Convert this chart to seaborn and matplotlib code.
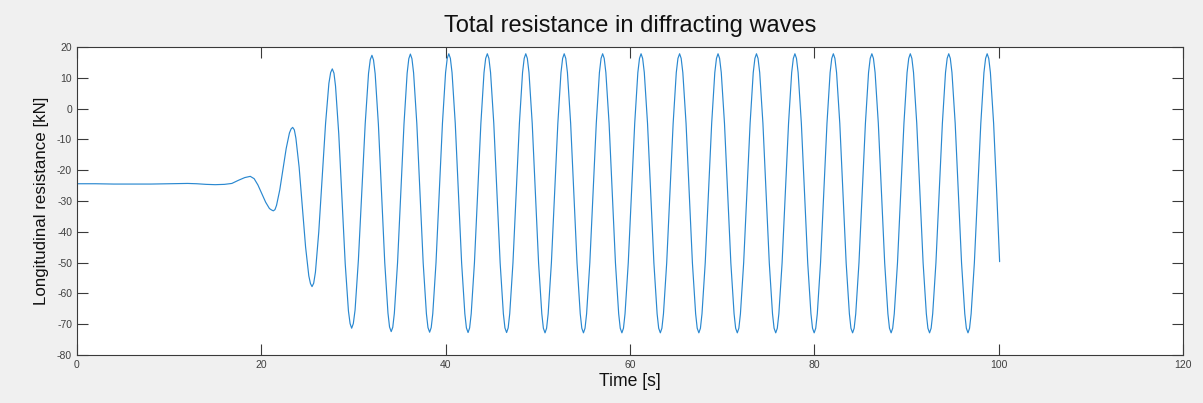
# Total resistance in diffracting waves - longitudinal resistance time trace
import numpy as np
import pandas as pd
import matplotlib
matplotlib.use('Agg')
import matplotlib.pyplot as plt
import seaborn as sns

# ==================== data ====================
# onset (flat, then the wave front arrives)
t_onset = [0, 2, 4, 6, 8, 10, 12, 13, 14, 15, 16, 16.8, 17.5, 18.2, 18.8,
           19.22, 19.63, 20.05, 20.47, 20.88, 21.1, 21.3, 21.48,
           21.65, 22.0, 22.35, 22.7, 23.05, 23.23, 23.4, 23.58,
           23.75, 24.1, 24.45, 24.8, 25.15, 25.33, 25.5, 25.68,
           25.87, 26.23, 26.6, 26.97, 27.33, 27.52, 27.7, 27.88,
           28.05, 28.4, 28.75, 29.1, 29.45, 29.63, 29.8, 29.98,
           30.17, 30.53, 30.9, 31.27, 31.63, 31.82]
r_onset = [-24.4, -24.4, -24.5, -24.5, -24.5, -24.4, -24.3, -24.4, -24.6, -24.7, -24.6, -24.3, -23.3, -22.4, -22.0,
           -22.75, -24.8, -27.6, -30.4, -32.45, -32.9, -33.2, -32.8,
           -31.4, -26.4, -19.7, -12.9, -7.9, -6.6, -6.1, -6.9,
           -9.6, -19.0, -32.0, -44.9, -54.3, -56.8, -57.8, -56.7,
           -53.1, -40.1, -22.5, -4.8, 8.2, 11.7, 12.9, 11.5,
           7.3, -8.2, -29.2, -50.3, -65.7, -69.8, -71.3, -69.8,
           -65.4, -49.2, -27.0, -4.9, 11.4, 15.9]

# steady oscillation (one row per wave period, peak to peak)
t_steady = [32.00, 32.17, 32.35, 32.70, 33.04, 33.39, 33.74, 33.91, 34.09, 34.26, 34.43, 34.78, 35.13, 35.48, 35.82, 36.00,
            36.17, 36.34, 36.52, 36.87, 37.21, 37.56, 37.91, 38.08, 38.26, 38.43, 38.60, 38.95, 39.30, 39.65, 39.99, 40.17,
            40.34, 40.51, 40.69, 41.04, 41.38, 41.73, 42.08, 42.25, 42.43, 42.60, 42.77, 43.12, 43.47, 43.82, 44.16, 44.34,
            44.52, 44.69, 44.87, 45.22, 45.56, 45.91, 46.26, 46.43, 46.61, 46.78, 46.95, 47.30, 47.65, 48.00, 48.34, 48.52,
            48.69, 48.86, 49.04, 49.39, 49.73, 50.08, 50.43, 50.60, 50.78, 50.95, 51.12, 51.47, 51.82, 52.17, 52.51, 52.69,
            52.86, 53.03, 53.21, 53.56, 53.90, 54.25, 54.60, 54.77, 54.95, 55.12, 55.29, 55.64, 55.99, 56.34, 56.68, 56.86,
            57.03, 57.20, 57.38, 57.73, 58.07, 58.42, 58.77, 58.94, 59.12, 59.29, 59.46, 59.81, 60.16, 60.51, 60.85, 61.03,
            61.20, 61.37, 61.55, 61.90, 62.24, 62.59, 62.94, 63.11, 63.29, 63.46, 63.63, 63.98, 64.33, 64.68, 65.02, 65.20,
            65.38, 65.55, 65.73, 66.08, 66.42, 66.77, 67.12, 67.29, 67.47, 67.64, 67.81, 68.16, 68.51, 68.86, 69.20, 69.38,
            69.55, 69.72, 69.90, 70.25, 70.59, 70.94, 71.29, 71.46, 71.64, 71.81, 71.98, 72.33, 72.68, 73.03, 73.37, 73.55,
            73.72, 73.89, 74.07, 74.42, 74.76, 75.11, 75.46, 75.63, 75.81, 75.98, 76.15, 76.50, 76.85, 77.20, 77.54, 77.72,
            77.89, 78.06, 78.24, 78.59, 78.93, 79.28, 79.63, 79.80, 79.98, 80.15, 80.32, 80.67, 81.02, 81.37, 81.71, 81.89,
            82.06, 82.23, 82.41, 82.76, 83.10, 83.45, 83.80, 83.97, 84.15, 84.32, 84.49, 84.84, 85.19, 85.54, 85.88, 86.06,
            86.24, 86.41, 86.59, 86.94, 87.28, 87.63, 87.98, 88.15, 88.33, 88.50, 88.67, 89.02, 89.37, 89.72, 90.06, 90.24,
            90.41, 90.58, 90.76, 91.11, 91.45, 91.80, 92.15, 92.32, 92.50, 92.67, 92.84, 93.19, 93.54, 93.89, 94.23, 94.41,
            94.58, 94.75, 94.93, 95.28, 95.62, 95.97, 96.32, 96.49, 96.67, 96.84, 97.01, 97.36, 97.71, 98.06, 98.40, 98.58,
            98.75, 98.92, 99.10, 99.45, 99.79, 100.10]
r_steady = [17.3, 15.8, 11.3, -5.1, -27.6, -50.0, -66.4, -70.9, -72.4, -71.0, -66.5, -50.0, -27.5, -4.9, 11.5, 16.2,
            17.7, 16.2, 11.6, -4.9, -27.5, -50.1, -66.6, -71.1, -72.6, -71.1, -66.6, -50.1, -27.5, -4.8, 11.7, 16.3,
            17.8, 16.3, 11.7, -4.8, -27.5, -50.1, -66.6, -71.2, -72.7, -71.2, -66.6, -50.1, -27.5, -4.8, 11.7, 16.3,
            17.8, 16.3, 11.7, -4.8, -27.5, -50.1, -66.6, -71.2, -72.7, -71.2, -66.6, -50.1, -27.5, -4.8, 11.7, 16.3,
            17.8, 16.3, 11.7, -4.8, -27.5, -50.1, -66.6, -71.3, -72.8, -71.3, -66.6, -50.1, -27.5, -4.8, 11.7, 16.3,
            17.8, 16.3, 11.7, -4.8, -27.5, -50.1, -66.6, -71.3, -72.8, -71.3, -66.6, -50.1, -27.5, -4.8, 11.7, 16.3,
            17.8, 16.3, 11.7, -4.8, -27.5, -50.1, -66.6, -71.3, -72.8, -71.3, -66.6, -50.1, -27.5, -4.8, 11.7, 16.3,
            17.8, 16.3, 11.7, -4.8, -27.5, -50.1, -66.6, -71.3, -72.8, -71.3, -66.6, -50.1, -27.5, -4.8, 11.7, 16.3,
            17.8, 16.3, 11.7, -4.8, -27.5, -50.1, -66.6, -71.3, -72.8, -71.3, -66.6, -50.1, -27.5, -4.8, 11.7, 16.3,
            17.8, 16.3, 11.7, -4.8, -27.5, -50.1, -66.6, -71.3, -72.8, -71.3, -66.6, -50.1, -27.5, -4.8, 11.7, 16.3,
            17.8, 16.3, 11.7, -4.8, -27.5, -50.1, -66.6, -71.3, -72.8, -71.3, -66.6, -50.1, -27.5, -4.8, 11.7, 16.3,
            17.8, 16.3, 11.7, -4.8, -27.5, -50.1, -66.6, -71.3, -72.8, -71.3, -66.6, -50.1, -27.5, -4.8, 11.7, 16.3,
            17.8, 16.3, 11.7, -4.8, -27.5, -50.1, -66.6, -71.3, -72.8, -71.3, -66.6, -50.1, -27.5, -4.8, 11.7, 16.3,
            17.8, 16.3, 11.7, -4.8, -27.5, -50.1, -66.6, -71.3, -72.8, -71.3, -66.6, -50.1, -27.5, -4.8, 11.7, 16.3,
            17.8, 16.3, 11.7, -4.8, -27.5, -50.1, -66.6, -71.3, -72.8, -71.3, -66.6, -50.1, -27.5, -4.8, 11.7, 16.3,
            17.8, 16.3, 11.7, -4.8, -27.5, -50.1, -66.6, -71.3, -72.8, -71.3, -66.6, -50.1, -27.5, -4.8, 11.7, 16.3,
            17.8, 16.3, 11.7, -4.8, -27.5, -49.7]

x_ticks = [0, 20, 40, 60, 80, 100, 120]
y_ticks = [-80, -70, -60, -50, -40, -30, -20, -10, 0, 10, 20]

df = pd.DataFrame({'time': t_onset + t_steady, 'resistance': r_onset + r_steady})

# ==================== plot ====================
sns.set_theme(style='white')
plt.rcParams['font.family'] = ['Liberation Sans', 'DejaVu Sans']
plt.rcParams['axes.unicode_minus'] = False

fig = plt.figure(figsize=(12.03, 4.03), dpi=100, facecolor='#f0f0f0')
ax = fig.add_axes([0.064, 0.1191, 0.9194, 0.7643])
ax.set_facecolor('white')

sns.lineplot(data=df, x='time', y='resistance', ax=ax, color='#2a88d0',
             linewidth=0.85, sort=False, estimator=None)

ax.set_xlim(0, 120)
ax.set_ylim(-80, 20)
ax.set_xticks(x_ticks)
ax.set_yticks(y_ticks)

edge = '#3a3a3a'
for sp in ax.spines.values():
    sp.set_color(edge)
    sp.set_linewidth(0.8)
ax.tick_params(direction='in', length=8, width=0.8, color=edge,
               labelsize=7.5, labelcolor='#404040', pad=3.5,
               top=True, right=True, bottom=True, left=True)

ax.set_xlabel('Time [s]', fontsize=12.7, color='#111111', labelpad=2)
ax.set_ylabel('Longitudinal resistance [kN]', fontsize=12.2, color='#111111', labelpad=6)
ax.set_title('Total resistance in diffracting waves', fontsize=17, color='#111111', pad=11)

fig.savefig('out.png', dpi=100, facecolor=fig.get_facecolor())
